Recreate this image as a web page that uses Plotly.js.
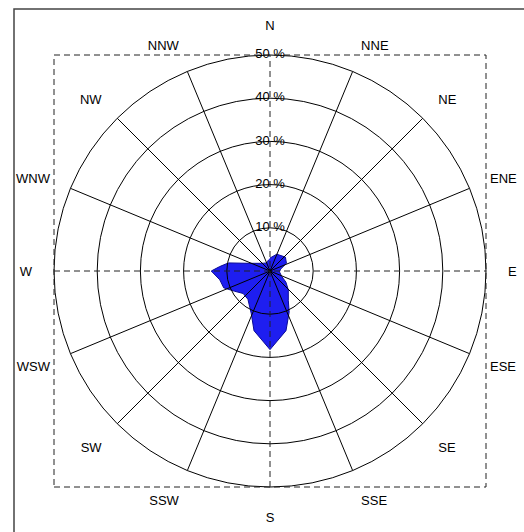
<!DOCTYPE html>
<html><head><meta charset="utf-8">
<script src="https://cdn.plot.ly/plotly-3.0.1.min.js"></script>
<style>html,body{margin:0;padding:0;background:#fff}#chart{width:524px;height:532px}</style>
</head><body><div id="chart"></div>
<script>
// ---- data ----
const directionNames = ['N','NNE','NE','ENE','E','ESE','SE','SSE','S','SSW','SW','WSW','W','WNW','NW','NNW'];
const directionAngles = [0,22.5,45,67.5,90,112.5,135,157.5,180,202.5,225,247.5,270,292.5,315,337.5];
const ringValues = [10,20,30,40,50];
const ringLabels = ['10 %','20 %','30 %','40 %','50 %'];
// outline of the frequency rose (compass degrees, % of time)
const outlineAngles = [0,22,48,65,80,95,115,125,136,148,155,165,180,195,204,218,230,240,250,260,270,275,281,290,305,322,340,352];
const outlineFreq   = [3.0,4.2,4.8,4.2,2.5,2.2,3.0,4.5,6.1,8.0,10.5,14.3,18.2,14.3,10.7,8.3,8.1,9.4,11.4,11.8,13.6,11.7,9.8,5.2,3.1,2.3,2.0,2.6];

// ---- layout constants ----
const W = 524, H = 532, CX = 270, CY = 271, R = 216;
const dom = {
  x: [(CX - R) / W, (CX + R) / W],
  y: [(H - CY - R) / H, (H - CY + R) / H]
};
const FONT = 'Liberation Sans, Arial, Helvetica, sans-serif';
const spokeAngles = directionAngles.filter(a => a % 90 !== 0);

const traces = [
  {
    type: 'scatterpolar', subplot: 'polar',
    r: outlineFreq, theta: outlineAngles,
    mode: 'lines', fill: 'toself',
    fillcolor: 'rgb(30,30,240)',
    line: {color: 'rgb(10,10,150)', width: 1},
    hoverinfo: 'skip'
  },
  {
    type: 'scatterpolar', subplot: 'polar2',
    r: ringValues, theta: ringValues.map(() => 0),
    mode: 'text', text: ringLabels,
    textposition: 'middle center',
    textfont: {family: FONT, size: 13, color: '#000'},
    cliponaxis: false, hoverinfo: 'skip'
  }
];

const dashStyle = {color: '#222', width: 1, dash: '6px,4px'};
const layout = {
  width: W, height: H,
  margin: {l: 0, r: 0, t: 0, b: 0, pad: 0},
  paper_bgcolor: '#fff',
  showlegend: false,
  polar: {
    domain: dom, bgcolor: '#fff',
    angularaxis: {
      direction: 'clockwise', rotation: 90,
      tickmode: 'array', tickvals: directionAngles, ticktext: directionNames,
      ticks: 'outside', ticklen: 19, tickcolor: 'rgba(0,0,0,0)',
      tickfont: {family: FONT, size: 13, color: '#000'},
      showgrid: false, showline: false
    },
    radialaxis: {visible: false, range: [0, 50]}
  },
  polar2: {
    domain: dom, bgcolor: 'rgba(0,0,0,0)',
    angularaxis: {
      direction: 'clockwise', rotation: 90,
      tickmode: 'array', tickvals: spokeAngles,
      showticklabels: false, ticks: '',
      showgrid: true, gridcolor: '#000', gridwidth: 1,
      showline: true, linecolor: '#000', linewidth: 1
    },
    radialaxis: {
      range: [0, 50], tickmode: 'array', tickvals: ringValues,
      showticklabels: false, ticks: '', showline: false,
      showgrid: true, gridcolor: '#000', gridwidth: 1
    }
  },
  shapes: [
    {type: 'rect', xref: 'paper', yref: 'paper', x0: dom.x[0], x1: dom.x[1], y0: dom.y[0], y1: dom.y[1], line: dashStyle, layer: 'above'},
    {type: 'line', xref: 'paper', yref: 'paper', x0: dom.x[0], x1: dom.x[1], y0: (H - CY) / H, y1: (H - CY) / H, line: dashStyle, layer: 'above'},
    {type: 'line', xref: 'paper', yref: 'paper', x0: CX / W, x1: CX / W, y0: dom.y[0], y1: dom.y[1], line: dashStyle, layer: 'above'},
    {type: 'rect', xref: 'paper', yref: 'paper', x0: 14 / W, x1: 1.05, y0: -0.05, y1: (H - 9) / H, line: {color: '#444', width: 1.5}, layer: 'above'}
  ]
};

Plotly.newPlot('chart', traces, layout, {staticPlot: true, displayModeBar: false});
</script>
</body></html>
